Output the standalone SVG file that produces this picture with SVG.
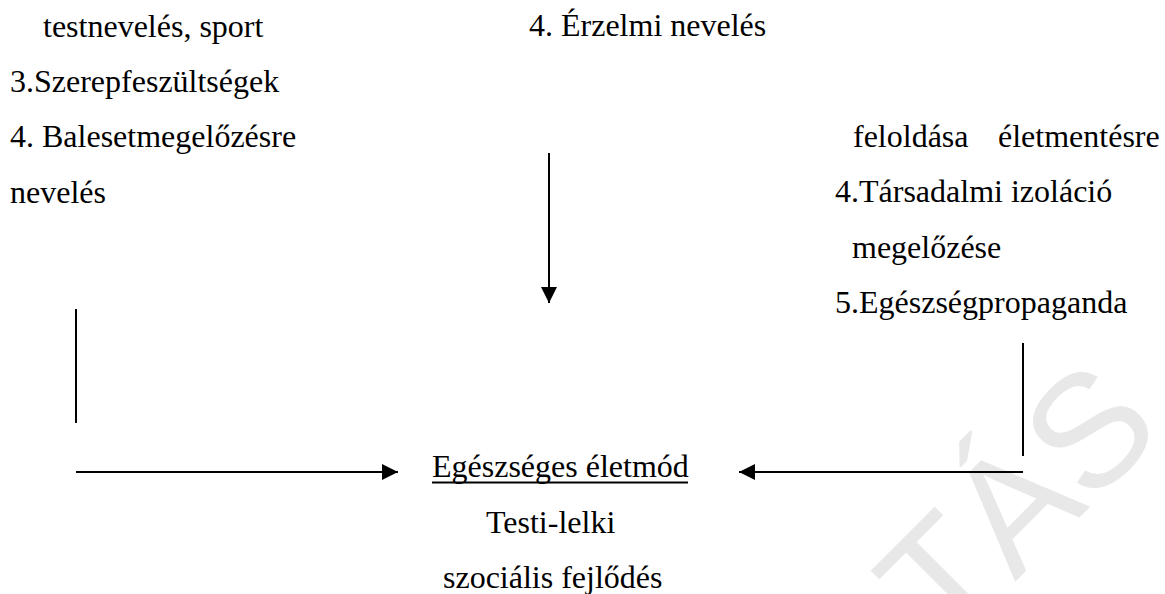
<svg xmlns="http://www.w3.org/2000/svg" width="1165" height="594" viewBox="0 0 1165 594">
<defs>
<style>
.t{font-family:"Liberation Serif","Times New Roman",serif;font-size:32px;fill:#000}
.ln{stroke:#000;stroke-width:2;fill:none}
.wm{font-family:"Liberation Sans",Arial,sans-serif;font-size:160px;fill:#e8e8e8}
</style>
<marker id="ah" viewBox="0 0 16 16" refX="16" refY="8" markerWidth="16" markerHeight="16" markerUnits="userSpaceOnUse" orient="auto">
<path d="M0,0 L16,8 L0,16 Z" fill="#000"/>
</marker>
</defs>
<rect width="1165" height="594" fill="#fff"/>
<text class="wm" transform="translate(946,651) rotate(-45)">TÁS</text>
<g id="left-node">
<text class="t" x="43" y="37">testnevelés, sport</text>
<text class="t" x="10" y="92">3.Szerepfeszültségek</text>
<text class="t" x="10" y="147">4. Balesetmegelőzésre</text>
<text class="t" x="10" y="203">nevelés</text>
</g>
<g id="top-node">
<text class="t" x="529" y="36">4. Érzelmi nevelés</text>
</g>
<g id="right-node">
<text class="t" x="853" y="147">feloldása</text>
<text class="t" x="998" y="147">életmentésre</text>
<text class="t" x="835" y="202">4.Társadalmi izoláció</text>
<text class="t" x="852" y="258">megelőzése</text>
<text class="t" x="835" y="313">5.Egészségpropaganda</text>
</g>
<g id="center-node">
<text class="t" x="432" y="477">Egészséges életmód</text>
<line x1="432" y1="482.5" x2="688" y2="482.5" stroke="#000" stroke-width="2"/>
<text class="t" x="486" y="533">Testi-lelki</text>
<text class="t" x="443" y="588">szociális fejlődés</text>
</g>
<g id="connectors">
<line class="ln" x1="76" y1="309" x2="76" y2="423"/>
<line class="ln" x1="76" y1="472" x2="398" y2="472" marker-end="url(#ah)"/>
<line class="ln" x1="549" y1="153" x2="549" y2="303" marker-end="url(#ah)"/>
<line class="ln" x1="1023" y1="343" x2="1023" y2="456"/>
<line class="ln" x1="1023" y1="472" x2="739" y2="472" marker-end="url(#ah)"/>
</g>
</svg>
